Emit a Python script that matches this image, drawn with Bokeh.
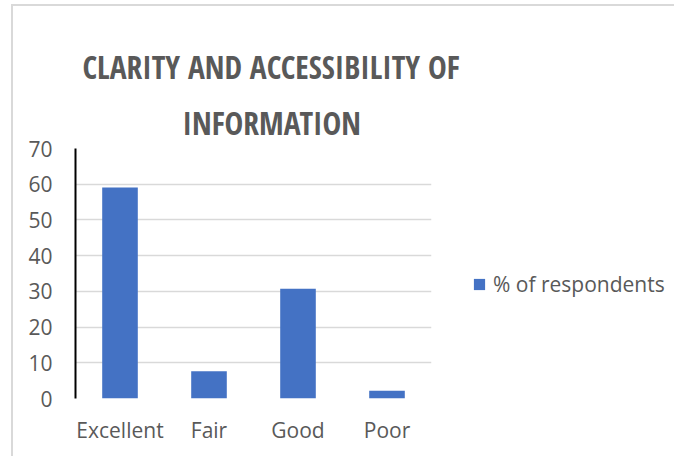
from bokeh.plotting import figure
from bokeh.models import Legend, LegendItem, FactorRange, Range1d, FixedTicker, ColumnDataSource, InlineStyleSheet, Title
from bokeh.embed import file_html
from bokeh.resources import INLINE

categories = ["Excellent", "Fair", "Good", "Poor"]
percent = [59.1, 7.6, 30.7, 2.2]
series_name = "% of respondents"
title_lines = ["CLARITY AND ACCESSIBILITY OF", "INFORMATION"]
y_ticks = [0, 10, 20, 30, 40, 50, 60, 70]

TEXT = "#595959"
BAR = "#4472C4"
GRID = "#D9D9D9"

src = ColumnDataSource(dict(cat=categories, val=percent))

p = figure(frame_width=356, frame_height=250, output_backend="svg", toolbar_location=None,
           title=None,
           x_range=FactorRange(*categories, range_padding=0), y_range=Range1d(0, 70))
p.min_border_left = 75
p.min_border_right = 243
p.min_border_top = 148
p.min_border_bottom = 58
p.outline_line_color = None
p.background_fill_color = "white"
p.border_fill_color = "white"

r = p.vbar(x="cat", top="val", width=0.4, source=src, fill_color=BAR, line_color=None)

p.yaxis.ticker = FixedTicker(ticks=y_ticks)
p.yaxis.axis_line_color = "black"
p.yaxis.axis_line_width = 2
p.yaxis.major_tick_line_color = None
p.yaxis.minor_tick_line_color = None
p.yaxis.major_label_standoff = 17
p.yaxis.major_label_text_font = "Open Sans"
p.yaxis.major_label_text_font_size = "21px"
p.yaxis.major_label_text_color = TEXT

p.xaxis.axis_line_color = None
p.xaxis.major_tick_line_color = None
p.xaxis.minor_tick_line_color = None
p.xaxis.major_label_standoff = 11
p.xaxis.major_label_text_font = "Open Sans"
p.xaxis.major_label_text_font_size = "21px"
p.xaxis.major_label_text_color = TEXT

p.xgrid.grid_line_color = None
p.ygrid.ticker = FixedTicker(ticks=y_ticks)
p.ygrid.grid_line_color = GRID
p.ygrid.grid_line_width = 1.5

title_style = dict(align="left", text_font="Open Sans Condensed", text_font_style="bold",
                   text_font_size="31.5px", text_color=TEXT)
# inner line first (closest to the plot), then the outer line, then a small top spacer
p.add_layout(Title(text=title_lines[1], offset=107, standoff=10, **title_style), "above")
p.add_layout(Title(text=title_lines[0], offset=7, standoff=12, text_line_height=0.25,
                   **title_style), "above")
p.add_layout(Title(text=" ", standoff=0, text_font_size="6px", text_color="white"), "above")

legend = Legend(items=[LegendItem(label=series_name, renderers=[r])],
                location=(41, 100), padding=0, margin=0, spacing=0,
                border_line_color=None, background_fill_alpha=0,
                glyph_width=14, glyph_height=14, label_height=14, label_standoff=7,
                label_text_font="Open Sans", label_text_font_size="21px",
                label_text_color=TEXT)
p.add_layout(legend, "right")

p.stylesheets = [InlineStyleSheet(css="""
:host { position: relative; }
:host::after {
  content: ""; position: absolute; left: 11px; top: 4px; right: -20px; bottom: -20px;
  border-top: 2px solid #D9D9D9; border-left: 2px solid #D9D9D9; pointer-events: none;
}
""")]

open("out.html", "w").write(file_html(p, INLINE))
